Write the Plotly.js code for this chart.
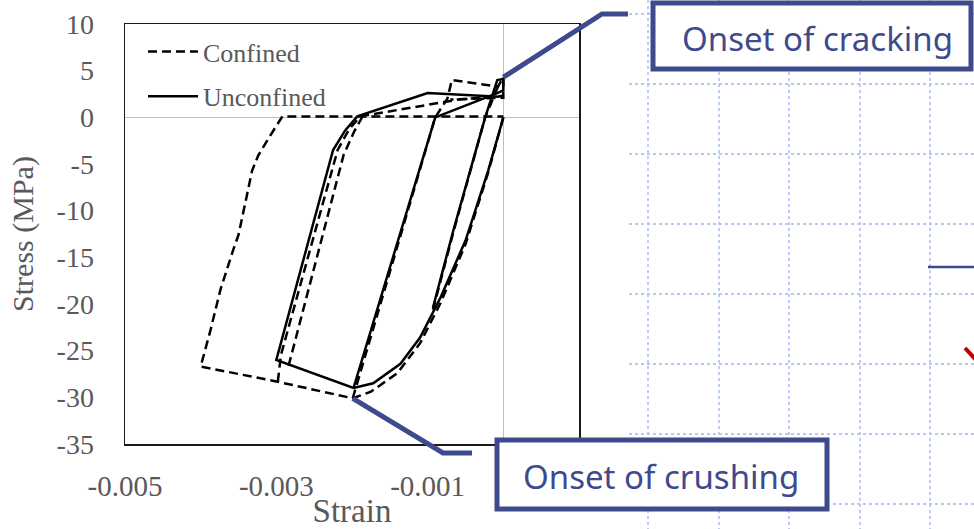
<!DOCTYPE html>
<html>
<head>
<meta charset="utf-8">
<script src="https://cdn.plot.ly/plotly-3.0.1.min.js"></script>
<style>
  html, body { margin: 0; padding: 0; background: #fff; }
  #chart { width: 974px; height: 529px; }
</style>
</head>
<body>
<div id="chart"></div>
<script>
// Cyclic stress-strain response of confined and unconfined concrete.
// null entries split a series into separate strokes.
const confinedStrain = [
  0, -0.0002, -0.0005, -0.00083, -0.0011, -0.0014, -0.00175, -0.00199,
  -0.0030, -0.0040,
  -0.00387, -0.00374, -0.00357, -0.0035, -0.00332, -0.00324, -0.0031, -0.00299, -0.00292,
  0,
  null,
  -0.00298, -0.00294, -0.00219, -0.00204, -0.00189,
  -0.0006, 0,
  null,
  -0.00186, -0.00197, -0.00211, -0.00285,
  null,
  -0.00199, -0.0009, -0.00074, -0.00068, -0.00007, 0, 0, -0.0007,
  null,
  -0.00007, -0.00024, -0.00066, -0.00093
];
const confinedStress = [
  0, -5.9, -13.6, -19.9, -24.2, -27.4, -29.4, -30.1,
  -28.3, -26.7,
  -22.8, -18.5, -14.2, -12.6, -5.7, -4.1, -2.2, -0.8, 0.1,
  0.1,
  null,
  -28.3, -25.5, -3.5, -1.3, 0.1,
  1.9, 2.3,
  null,
  0.1, -1.5, -4.0, -27.0,
  null,
  -30.1, 0, 2.0, 4.0, 3.3, 4.3, 2.1, 1.9,
  null,
  3.3, 0, -12.3, -20.6
];

const unconfinedStrain = [
  0, -0.0002, -0.0005, -0.00083, -0.0011, -0.00136, -0.00172, -0.00198,
  -0.0030,
  -0.00225, -0.00209, -0.00193,
  -0.0010, -0.00005,
  null,
  -0.00198, -0.0009, -0.00008, 0, 0, -0.00008, -0.00024, -0.00066, -0.00093
];
const unconfinedStress = [
  0, -5.7, -13.2, -19.3, -23.6, -26.4, -28.5, -29.0,
  -26.0,
  -3.5, -1.4, 0.1,
  2.6, 2.2,
  null,
  -29.0, 0, 2.6, 2.9, 4.1, 4.0, 0, -12.1, -20.4
];

const seriesNames = ['Confined', 'Unconfined'];
const xTickVals = [-0.005, -0.003, -0.001];
const xTickText = ['-0.005', '-0.003', '-0.001'];
const yTickVals = [10, 5, 0, -5, -10, -15, -20, -25, -30, -35];
const yTickText = ['10', '5', '0', '-5', '-10', '-15', '-20', '-25', '-30', '-35'];
const xRange = [-0.005, 0.001];
const yRange = [-35, 10];

// Callouts: label text and the point each one marks
const crackingLabel = 'Onset of cracking';
const crushingLabel = 'Onset of crushing';
const crackingPoint = { strain: 0, stress: 4.3 };
const crushingPoint = { strain: -0.00199, stress: -30.1 };

// ---- page geometry ----
const W = 974, H = 529;
const M = { l: 125, r: 395, t: 24, b: 85 };
const plotW = W - M.l - M.r;
const plotH = H - M.t - M.b;
const pxX = px => (px - M.l) / plotW;           // page px -> paper x
const pxY = py => (H - M.b - py) / plotH;        // page px -> paper y
const dataX = v => (v - xRange[0]) / (xRange[1] - xRange[0]);
const dataY = v => (v - yRange[0]) / (yRange[1] - yRange[0]);

const navy = '#3f4a8e';
const gridBlue = '#b8c6f4';
const axisGrey = '#595959';

const shapes = [];

// light dotted slide grid to the right of the chart
[648, 719, 789, 860, 930].forEach(x => shapes.push({
  type: 'line', xref: 'paper', yref: 'paper',
  x0: pxX(x), x1: pxX(x), y0: pxY(0), y1: pxY(H),
  line: { color: gridBlue, width: 1.8, dash: 'dot' }, layer: 'above'
}));
[14, 84, 154, 224, 294, 364, 434, 504].forEach(y => shapes.push({
  type: 'line', xref: 'paper', yref: 'paper',
  x0: pxX(629), x1: pxX(W), y0: pxY(y), y1: pxY(y),
  line: { color: gridBlue, width: 1.8, dash: 'dot' }, layer: 'above'
}));

// leader lines from the marked points to the label boxes
shapes.push({
  type: 'path', xref: 'paper', yref: 'paper', layer: 'above',
  path: `M${dataX(crackingPoint.strain)},${dataY(crackingPoint.stress)} L${pxX(602)},${pxY(14)} L${pxX(628)},${pxY(14)}`,
  line: { color: navy, width: 5 }
});
shapes.push({
  type: 'path', xref: 'paper', yref: 'paper', layer: 'above',
  path: `M${dataX(crushingPoint.strain)},${dataY(crushingPoint.stress)} L${pxX(443)},${pxY(453)} L${pxX(472)},${pxY(453)}`,
  line: { color: navy, width: 5 }
});

// label boxes
shapes.push({
  type: 'rect', xref: 'paper', yref: 'paper', layer: 'above',
  x0: pxX(653), x1: pxX(971), y0: pxY(69), y1: pxY(3),
  fillcolor: '#ffffff', line: { color: navy, width: 5 }
});
shapes.push({
  type: 'rect', xref: 'paper', yref: 'paper', layer: 'above',
  x0: pxX(497), x1: pxX(827), y0: pxY(509), y1: pxY(440),
  fillcolor: '#ffffff', line: { color: navy, width: 5 }
});

// edge fragments of the neighbouring diagram
shapes.push({
  type: 'line', xref: 'paper', yref: 'paper', layer: 'above',
  x0: pxX(928), x1: pxX(W), y0: pxY(267), y1: pxY(267),
  line: { color: navy, width: 2.5 }
});
shapes.push({
  type: 'line', xref: 'paper', yref: 'paper', layer: 'above',
  x0: pxX(965), x1: pxX(976), y0: pxY(348), y1: pxY(360),
  line: { color: '#c00000', width: 4 }
});

const annotations = [
  {
    xref: 'paper', yref: 'paper', x: pxX(817), y: pxY(38),
    text: crackingLabel, showarrow: false, xanchor: 'center', yanchor: 'middle',
    font: { family: 'Noto Sans, DejaVu Sans, sans-serif', size: 33, color: navy }
  },
  {
    xref: 'paper', yref: 'paper', x: pxX(661), y: pxY(476),
    text: crushingLabel, showarrow: false, xanchor: 'center', yanchor: 'middle',
    font: { family: 'Noto Sans, DejaVu Sans, sans-serif', size: 33, color: navy }
  }
];

const traces = [
  {
    x: confinedStrain, y: confinedStress, name: seriesNames[0],
    type: 'scatter', mode: 'lines', legendgroup: 'c',
    line: { color: '#000', width: 2.5, dash: '9px,5px' }
  },
  {
    x: unconfinedStrain, y: unconfinedStress, name: seriesNames[1],
    type: 'scatter', mode: 'lines', legendgroup: 'u',
    line: { color: '#000', width: 2.5 }
  }
];

const serif = 'Liberation Serif, Times New Roman, serif';

const layout = {
  width: W, height: H,
  margin: M,
  paper_bgcolor: '#fff', plot_bgcolor: '#fff',
  showlegend: true,
  legend: {
    x: pxX(143), y: pxY(28), xanchor: 'left', yanchor: 'top',
    bgcolor: 'rgba(0,0,0,0)', borderwidth: 0,
    font: { family: serif, size: 26, color: axisGrey },
    tracegroupgap: 8, itemwidth: 50
  },
  xaxis: {
    range: xRange, tickvals: xTickVals, ticktext: xTickText,
    showgrid: false, zeroline: true, zerolinecolor: '#bfbfbf', zerolinewidth: 1.5,
    showline: true, linecolor: '#1a1a1a', linewidth: 1.5, mirror: true,
    ticks: '', ticklabelstandoff: 16,
    tickfont: { family: serif, size: 29, color: axisGrey },
    title: { text: 'Strain', font: { family: serif, size: 33, color: axisGrey }, standoff: 6 }
  },
  yaxis: {
    range: yRange, tickvals: yTickVals, ticktext: yTickText,
    showgrid: false, zeroline: true, zerolinecolor: '#bfbfbf', zerolinewidth: 1.5,
    showline: true, linecolor: '#1a1a1a', linewidth: 1.5, mirror: true,
    ticks: '', ticklabelstandoff: 24,
    tickfont: { family: serif, size: 28, color: axisGrey },
    title: { text: 'Stress (MPa)', font: { family: serif, size: 30, color: axisGrey }, standoff: 14 }
  },
  shapes: shapes,
  annotations: annotations
};

Plotly.newPlot('chart', traces, layout, { staticPlot: true, displayModeBar: false });
</script>
</body>
</html>
